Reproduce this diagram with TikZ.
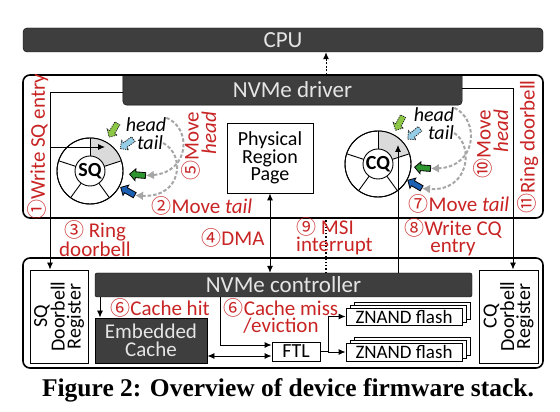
\documentclass[tikz,border=0pt]{standalone}
\usepackage{fontspec}
\setmainfont{Carlito}
\newfontfamily\circfont{Noto Sans CJK SC}
\newfontfamily\capfont{Liberation Serif}
\usetikzlibrary{arrows.meta,positioning,calc,shapes.arrows,shadows}
\definecolor{bardark}{RGB}{62,62,62}
\definecolor{annot}{RGB}{200,36,36}
\definecolor{segfill}{RGB}{218,218,218}
\definecolor{ptrgreen}{RGB}{46,150,46}
\definecolor{ptrlgreen}{RGB}{140,200,70}
\definecolor{ptrblue}{RGB}{28,96,180}
\definecolor{ptrlblue}{RGB}{150,205,230}
\newcommand{\cn}[1]{{\circfont\fontsize{20}{16}\selectfont #1}}
\tikzset{
  bar/.style    = {draw=black, fill=bardark, rounded corners=4pt, inner sep=0pt,
                   text=white!90!black, font=\fontsize{23}{23}\selectfont},
  frame/.style  = {draw=black, line width=1.6pt, rounded corners=7pt, inner sep=0pt},
  box/.style    = {draw=black, fill=white, line width=0.9pt, align=center,
                   inner sep=0pt, font=\fontsize{20}{16}\selectfont},
  boxd/.style   = {box, fill=bardark, text=white!90!black, font=\fontsize{21}{18}\selectfont},
  flash/.style  = {box, font=\fontsize{19}{19}\selectfont,
                   double copy shadow={shadow xshift=4pt, shadow yshift=3pt}},
  ring/.style   = {draw=black, circle, line width=0.9pt, minimum size=66pt, inner sep=0pt},
  hub/.style    = {draw=black, circle, fill=white, line width=0.9pt, minimum size=30pt,
                   inner sep=0pt, font=\fontsize{20}{20}\selectfont\bfseries},
  lab/.style    = {text=annot, font=\fontsize{21}{16}\selectfont, align=center, inner sep=0pt},
  ptr/.style    = {font=\fontsize{20}{20}\selectfont\itshape, inner sep=0pt},
  arr/.style    = {-{Latex[length=7pt,width=6pt]}, draw=black, line width=0.9pt},
  darr/.style   = {{Latex[length=7pt,width=6pt]}-{Latex[length=7pt,width=6pt]},
                   draw=black, line width=0.9pt},
  irq/.style    = {-{Latex[length=7pt,width=6pt]}, draw=black, line width=1pt,
                   dash pattern=on 2pt off 1.5pt},
  move/.style   = {-{Latex[length=8pt,width=9pt]}, draw=black!35, line width=2pt,
                   dash pattern=on 3.5pt off 2pt},
  oldptr/.style = {single arrow, draw=black!85, line width=0.8pt, dash pattern=on 1.3pt off 1pt,
                   minimum height=16pt, inner sep=2.5pt, single arrow head extend=3pt},
  newptr/.style = {single arrow, draw=black, line width=0.8pt,
                   minimum height=16pt, inner sep=2.5pt, single arrow head extend=3pt},
}
\begin{document}
\begin{tikzpicture}[x=1pt,y=1pt]
  \useasboundingbox (0,0) rectangle (560,412);

  % host
  \node[bar, minimum width=520pt, minimum height=24pt] (cpu) at (283,372) {CPU};
  \node[inner sep=0pt, minimum width=339pt, minimum height=30pt] (drv) at (292.5,322) {};
  \path[draw=black, fill=bardark, rounded corners=4pt]
    (drv.north west) -- (drv.south west) -- (drv.south east) -- (drv.north east);
  \node[bar, draw=none, fill=none] (drvtxt) at (drv) {NVMe driver};
  \node[frame, minimum width=520pt, minimum height=143pt] (host) at (283,265.5) {};
  \node[box, minimum width=86pt, minimum height=70pt] (prp) at (270,254) {Physical\\Region\\Page};

  % submission / completion queues
  \foreach \q/\c in {sq/{(90,241)}, cq/{(378,248)}} {
    \node[ring] (\q ring) at \c {};
    \fill[segfill] ($(\q ring)+(18:15pt)$) -- ($(\q ring)+(18:33pt)$)
      arc[start angle=18, end angle=90, radius=33pt] -- ($(\q ring)+(90:15pt)$)
      arc[start angle=90, end angle=18, radius=15pt] -- cycle;
    \foreach \a in {90,18,-54,-126,162}
      \draw[line width=0.9pt] ($(\q ring)+(\a:15pt)$) -- ($(\q ring)+(\a:33pt)$);
    \draw[line width=0.9pt] (\q ring) circle[radius=33pt];
  }
  \node[hub] (sq) at (sqring) {SQ};
  \node[hub] (cq) at (cqring) {CQ};

  % head / tail pointers
  \node[oldptr, fill=ptrlgreen, rotate=239] (sqhead) at (114,283) {};
  \node[oldptr, fill=ptrlblue, rotate=216] (sqtail) at (128,269) {};
  \node[newptr, fill=ptrgreen, rotate=175] (sqhnew) at (139,237) {};
  \node[newptr, fill=ptrblue, rotate=151] (sqtnew) at (129,220) {};
  \node[ptr] (sqhlab) at (146,287) {head};
  \node[ptr] (sqtlab) at (150,269) {tail};
  \node[oldptr, fill=ptrlgreen, rotate=242] (cqhead) at (400,290) {};
  \node[oldptr, fill=ptrlblue, rotate=220] (cqtail) at (415,279) {};
  \node[newptr, fill=ptrgreen, rotate=175] (cqhnew) at (424,244) {};
  \node[newptr, fill=ptrblue, rotate=150] (cqtnew) at (416,227) {};
  \node[ptr] (cqhlab) at (434,297) {head};
  \node[ptr] (cqtlab) at (441,279) {tail};
  \draw[move] (sqhlab.north east) .. controls (192,284) and (190,240) .. (sqhnew.tail);
  \draw[move] (sqtlab.east) .. controls (186,257) and (182,214) .. (sqtnew.tail);
  \draw[move] (cqhlab.north east) .. controls (480,292) and (477,245) .. (cqhnew.tail);
  \draw[move] (cqtlab.east) .. controls (474,267) and (470,220) .. (cqtnew.tail);

  % device
  \node[frame, minimum width=520pt, minimum height=110pt] (dev) at (283,99) {};
  \node[bar, minimum width=377pt, minimum height=24pt, rounded corners=2pt] (ctrl) at (283.5,127) {NVMe controller};
  \node[box, rotate=90, minimum width=93pt, minimum height=58pt] (sqdb) at (59,95.5) {SQ\\Doorbell\\Register};
  \node[box, rotate=90, minimum width=93pt, minimum height=59pt] (cqdb) at (508.5,95.5) {CQ\\Doorbell\\Register};
  \node[boxd, minimum width=112pt, minimum height=45pt] (cache) at (151,71.5) {Embedded\\Cache};
  \node[box, minimum width=48pt, minimum height=19pt] (ftl) at (296,60.5) {FTL};
  \node[flash, minimum width=116pt, minimum height=17pt] (zn1) at (404,95.5) {ZNAND flash};
  \node[flash, minimum width=116pt, minimum height=18pt] (zn2) at (404,60) {ZNAND flash};

  % connectors
  \coordinate (lbus) at (50,320);
  \coordinate (rbus) at (513,324);
  \coordinate (sqtip) at (105,265);
  \coordinate (cqtip) at (398,267);
  \coordinate (msi) at (326,0);
  \coordinate (hit) at (100,0);
  \coordinate (miss) at (220,67);
  \coordinate (cf) at (0,56);
  \coordinate (fork) at (328,0);
  \draw[arr] (drv.west |- lbus) -- (lbus) -- (lbus |- sqdb.east);
  \draw[arr] (lbus |- sqtip) -- (sqtip);
  \draw[arr] (drv.east |- rbus) -- (rbus) -- (rbus |- cqdb.east);
  \draw[arr] (cqtip |- ctrl.north) -- (cqtip);
  \draw[darr] (prp.south) -- (prp.south |- ctrl.north);
  \draw[line width=1.2pt, dotted] (msi |- ctrl.north) -- (msi |- host.south);
  \draw[irq] (msi |- drv.north) -- (msi |- cpu.south);
  \draw[arr] (hit |- ctrl.south) -- (hit |- cache.north);
  \draw[arr] (miss |- ctrl.south) -- (miss) -- (miss -| ftl.west);
  \draw[darr] (cache.east |- cf) -- (ftl.west |- cf);
  \draw[line width=0.9pt] (ftl.east) -- (ftl.east -| fork);
  \draw[arr] (ftl.east -| fork) |- (zn1.west);
  \draw[arr] (ftl.east -| fork) |- (zn2.west);

  % step labels
  \node[lab, rotate=90] (l1) at (38,265) {\cn{①}Write SQ entry};
  \node[lab] (l2) at (202,206) {\cn{②}Move \textit{tail}};
  \node[lab] (l3) at (95,173) {\cn{③} Ring\\doorbell};
  \node[lab] (l4) at (233,174) {\cn{④}DMA};
  \node[lab, rotate=90, align=right] (l5) at (199,266) {\cn{⑤}Move\\\textit{head}};
  \node[lab] (l6a) at (160,104) {\cn{⑥}Cache hit};
  \node[lab] (l6b) at (281,96) {\cn{⑥}Cache miss\\/eviction};
  \node[lab] (l7) at (459,208) {\cn{⑦}Move \textit{tail}};
  \node[lab] (l8) at (453,175) {\cn{⑧}Write CQ\\entry};
  \node[lab, anchor=west, align=left] (l9) at (296,176) {\cn{⑨} MSI\\interrupt};
  \node[lab, rotate=90, align=right] (l10) at (491,268) {\cn{⑩}Move\\\textit{head}};
  \node[lab, rotate=90] (l11) at (528,265) {\cn{⑪}Ring doorbell};

  \node[font=\capfont\bfseries\fontsize{25.5}{25.5}\selectfont] (cap) at (288,22)
    {Figure 2: Overview of device firmware stack.};
\end{tikzpicture}
\end{document}
